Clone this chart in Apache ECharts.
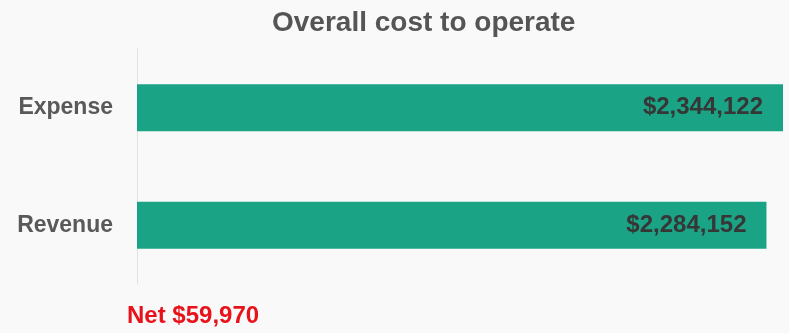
<!DOCTYPE html>
<html>
<head>
<meta charset="utf-8">
<script src="https://cdn.jsdelivr.net/npm/echarts@6/dist/echarts.min.js"></script>
<style>
  html, body { margin: 0; padding: 0; background: #f9f9f9; }
  #chart { width: 789px; height: 333px; }
</style>
</head>
<body>
<div id="chart"></div>
<script>
// Category names, top to bottom
const categories = ['Expense', 'Revenue'];
// Dollar amounts per category
const amounts = [2344122, 2284152];

const fmt = v => '$' + v.toLocaleString('en-US');
const net = amounts[0] - amounts[1];

const chart = echarts.init(document.getElementById('chart'));
chart.setOption({
  backgroundColor: '#f9f9f9',
  animation: false,
  title: {
    text: 'Overall cost to operate',
    left: 267,
    top: 4,
    textStyle: {
      fontFamily: 'Liberation Sans, Arial, sans-serif',
      fontSize: 28,
      fontWeight: 'bold',
      color: '#555555'
    }
  },
  grid: { left: 137, right: 6, top: 49, bottom: 49 },
  xAxis: {
    type: 'value',
    min: 0,
    max: 'dataMax',
    show: false
  },
  yAxis: {
    type: 'category',
    data: categories,
    inverse: true,
    axisLine: { show: true, lineStyle: { color: '#e2e2e2', width: 1 } },
    axisTick: { show: false },
    axisLabel: {
      margin: 24,
      fontFamily: 'Liberation Sans, Arial, sans-serif',
      fontSize: 23,
      fontWeight: 'bold',
      color: '#595959'
    }
  },
  series: [{
    type: 'bar',
    data: amounts,
    barWidth: 47,
    itemStyle: { color: '#1ba386' },
    label: {
      show: true,
      position: 'insideRight',
      distance: 20,
      formatter: p => fmt(p.value),
      fontFamily: 'Liberation Sans, Arial, sans-serif',
      fontSize: 24,
      fontWeight: 'bold',
      color: '#363636'
    }
  }],
  graphic: [{
    type: 'text',
    left: 127,
    top: 304,
    style: {
      text: 'Net ' + fmt(net),
      font: 'bold 24px "Liberation Sans", Arial, sans-serif',
      fill: '#e8121b'
    }
  }]
});
</script>
</body>
</html>
